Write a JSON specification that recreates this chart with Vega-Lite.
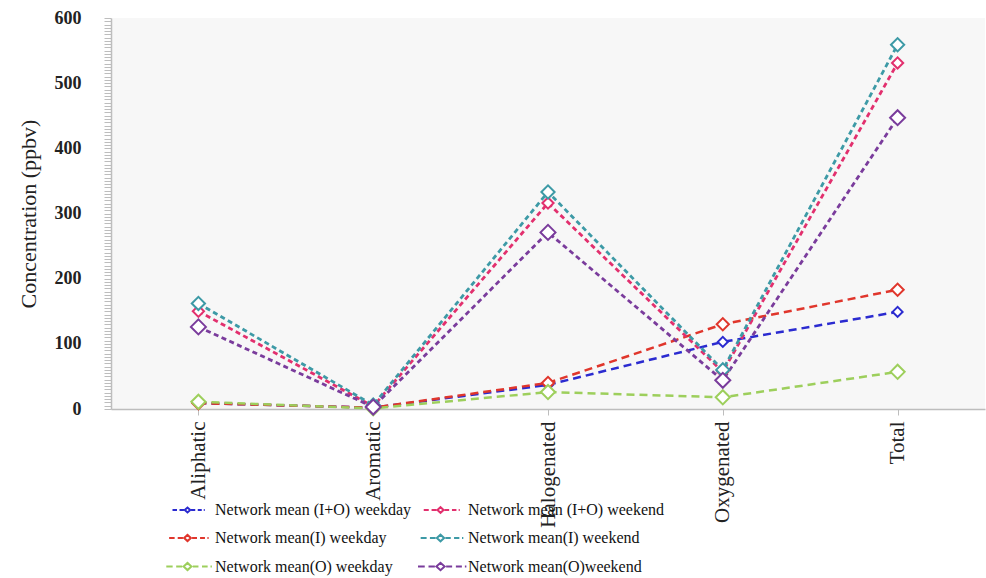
{
  "$schema": "https://vega.github.io/schema/vega-lite/v6.json",
  "width": 874,
  "height": 391,
  "autosize": {"type": "none"},
  "padding": {"left": 111, "top": 18, "right": 1, "bottom": 169},
  "background": "white",
  "config": {"view": {"fill": "#f7f7f7", "stroke": null}, "font": "Liberation Serif"},
  "data": {
    "values": [
      {"cat": "Aliphatic", "series": "Network mean (I+O) weekday", "value": 9},
      {"cat": "Aromatic", "series": "Network mean (I+O) weekday", "value": 2},
      {"cat": "Halogenated", "series": "Network mean (I+O) weekday", "value": 37},
      {"cat": "Oxygenated", "series": "Network mean (I+O) weekday", "value": 103},
      {"cat": "Total", "series": "Network mean (I+O) weekday", "value": 149},
      {"cat": "Aliphatic", "series": "Network mean (I+O) weekend", "value": 150},
      {"cat": "Aromatic", "series": "Network mean (I+O) weekend", "value": 4},
      {"cat": "Halogenated", "series": "Network mean (I+O) weekend", "value": 316},
      {"cat": "Oxygenated", "series": "Network mean (I+O) weekend", "value": 57},
      {"cat": "Total", "series": "Network mean (I+O) weekend", "value": 531},
      {"cat": "Aliphatic", "series": "Network mean(I) weekday", "value": 9},
      {"cat": "Aromatic", "series": "Network mean(I) weekday", "value": 2},
      {"cat": "Halogenated", "series": "Network mean(I) weekday", "value": 40},
      {"cat": "Oxygenated", "series": "Network mean(I) weekday", "value": 130},
      {"cat": "Total", "series": "Network mean(I) weekday", "value": 183},
      {"cat": "Aliphatic", "series": "Network mean(I) weekend", "value": 162},
      {"cat": "Aromatic", "series": "Network mean(I) weekend", "value": 6},
      {"cat": "Halogenated", "series": "Network mean(I) weekend", "value": 333},
      {"cat": "Oxygenated", "series": "Network mean(I) weekend", "value": 60},
      {"cat": "Total", "series": "Network mean(I) weekend", "value": 559},
      {"cat": "Aliphatic", "series": "Network mean(O) weekday", "value": 11},
      {"cat": "Aromatic", "series": "Network mean(O) weekday", "value": 1},
      {"cat": "Halogenated", "series": "Network mean(O) weekday", "value": 26},
      {"cat": "Oxygenated", "series": "Network mean(O) weekday", "value": 18},
      {"cat": "Total", "series": "Network mean(O) weekday", "value": 57},
      {"cat": "Aliphatic", "series": "Network mean(O)weekend", "value": 126},
      {"cat": "Aromatic", "series": "Network mean(O)weekend", "value": 3},
      {"cat": "Halogenated", "series": "Network mean(O)weekend", "value": 271},
      {"cat": "Oxygenated", "series": "Network mean(O)weekend", "value": 44},
      {"cat": "Total", "series": "Network mean(O)weekend", "value": 447}
    ]
  },
  "encoding": {
    "x": {
      "field": "cat",
      "type": "nominal",
      "sort": ["Aliphatic", "Aromatic", "Halogenated", "Oxygenated", "Total"],
      "scale": {"type": "point", "padding": 0.5},
      "axis": {
        "title": null,
        "labelAngle": -90,
        "labelFont": "Liberation Serif",
        "labelFontSize": 21,
        "labelColor": "#222222",
        "labelPadding": 6,
        "tickSize": 6,
        "tickColor": "#bdbdbd",
        "domainColor": "#bdbdbd",
        "domainWidth": 1.5
      }
    },
    "y": {
      "field": "value",
      "type": "quantitative",
      "scale": {"domain": [0, 600], "nice": false},
      "axis": {
        "title": "Concentration (ppbv)",
        "titleFont": "Liberation Serif",
        "titleFontSize": 22,
        "titleFontWeight": "normal",
        "titleColor": "#222222",
        "titlePadding": 14,
        "values": [0,5,10,15,20,25,30,35,40,45,50,55,60,65,70,75,80,85,90,95,100,105,110,115,120,125,130,135,140,145,150,155,160,165,170,175,180,185,190,195,200,205,210,215,220,225,230,235,240,245,250,255,260,265,270,275,280,285,290,295,300,305,310,315,320,325,330,335,340,345,350,355,360,365,370,375,380,385,390,395,400,405,410,415,420,425,430,435,440,445,450,455,460,465,470,475,480,485,490,495,500,505,510,515,520,525,530,535,540,545,550,555,560,565,570,575,580,585,590,595,600],
        "labelExpr": "datum.value % 100 === 0 ? datum.label : ''",
        "labelOverlap": false,
        "labelFont": "Liberation Serif",
        "labelFontWeight": "bold",
        "labelFontSize": 18,
        "labelColor": "#222222",
        "labelPadding": 23,
        "tickSize": 7,
        "tickColor": "#bdbdbd",
        "domainColor": "#bdbdbd",
        "domainWidth": 1.5,
        "grid": false
      }
    },
    "color": {
      "field": "series",
      "type": "nominal",
      "scale": {
        "domain": ["Network mean (I+O) weekday", "Network mean (I+O) weekend", "Network mean(I) weekday", "Network mean(I) weekend", "Network mean(O) weekday", "Network mean(O)weekend"],
        "range": ["#2b2bd0", "#e2306e", "#e0362c", "#3d9aa6", "#9dcf5c", "#7a3c9c"]
      },
      "legend": {
        "orient": "none",
        "legendX": 68,
        "legendY": 484,
        "direction": "horizontal",
        "columns": 2,
        "title": null,
        "symbolType": "M-3,0H-2.1M-1.6,0H-0.75M-0.55,0L0,-0.5L0.55,0L0,0.5ZM0.75,0H1.55M2.05,0H2.85M3.25,0H3.45",
        "symbolSize": 196,
        "symbolStrokeWidth": 2,
        "symbolDash": [],
        "symbolFillColor": "white",
        "labelFont": "Liberation Serif",
        "labelFontSize": 16,
        "labelColor": "#111111",
        "labelOffset": 19,
        "labelLimit": 300,
        "columnPadding": 2,
        "rowPadding": 12,
        "padding": 0
      }
    }
  },
  "layer": [
    {
      "transform": [{"filter": {"field": "series", "oneOf": ["Network mean (I+O) weekday", "Network mean(I) weekday", "Network mean(O) weekday"]}}],
      "mark": {"type": "line", "strokeWidth": 2.5, "strokeDash": [8, 5]}
    },
    {
      "transform": [{"filter": {"field": "series", "oneOf": ["Network mean (I+O) weekend", "Network mean(I) weekend", "Network mean(O)weekend"]}}],
      "mark": {"type": "line", "strokeWidth": 2.8, "strokeDash": [5, 3.5]}
    },
    {
      "mark": {"type": "point", "shape": "diamond", "filled": false, "fill": "white", "fillOpacity": 1, "opacity": 1, "strokeWidth": 2},
      "encoding": {
        "size": {
          "field": "series",
          "type": "nominal",
          "scale": {
            "domain": ["Network mean (I+O) weekday", "Network mean (I+O) weekend", "Network mean(I) weekday", "Network mean(I) weekend", "Network mean(O) weekday", "Network mean(O)weekend"],
            "range": [100, 225, 100, 256, 256, 100]
          },
          "legend": null
        }
      }
    }
  ]
}
